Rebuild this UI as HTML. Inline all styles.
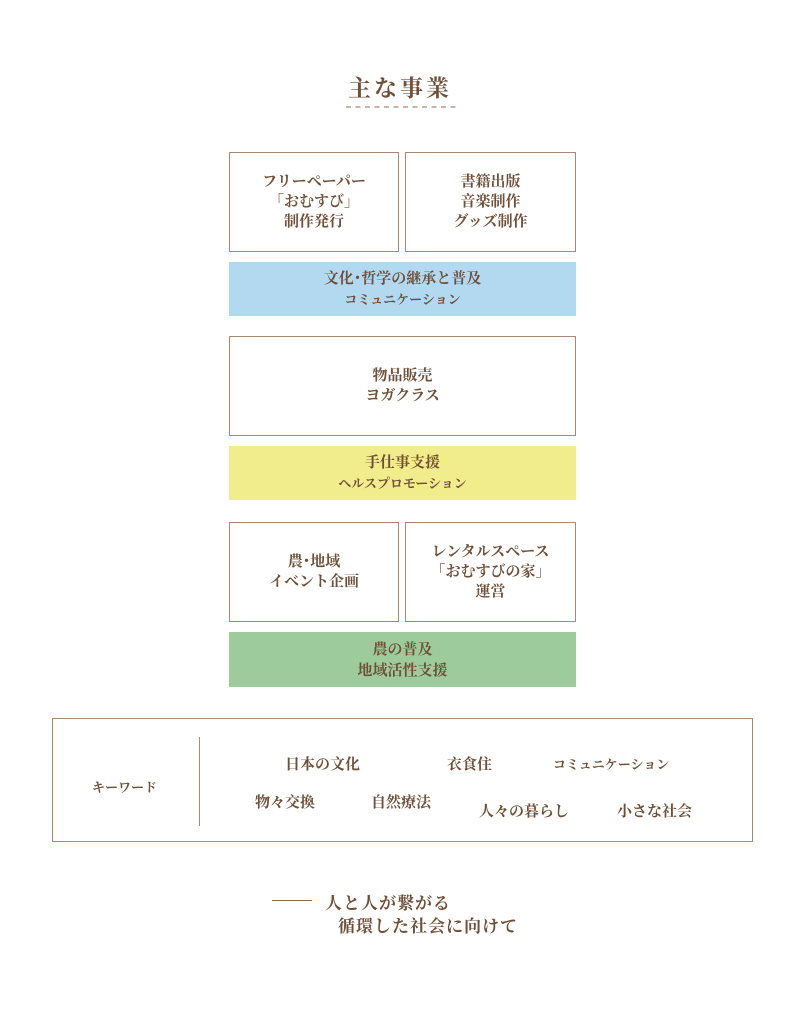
<!DOCTYPE html>
<html><head><meta charset="utf-8"><style>
body{margin:0;width:806px;height:1024px;background:#fff;position:relative;font-family:"Liberation Sans","Noto Serif CJK SC","Noto Sans CJK JP",sans-serif;color:#6e4f38;overflow:hidden}
.a{position:absolute}
.b{position:absolute;box-sizing:border-box;border:1.5px solid #a88873;display:flex;align-items:center;justify-content:center;text-align:center;font-size:15px;line-height:20px;font-weight:bold}
.f{position:absolute;display:flex;align-items:center;justify-content:center;text-align:center;font-size:15px;line-height:21px;font-weight:bold}
.k{position:absolute;font-size:15px;white-space:nowrap;font-weight:bold}
</style></head><body>
<div class="a" style="left:300px;top:70px;width:200px;text-align:center;font-size:23px;letter-spacing:3px;font-weight:bold">主な事業</div>
<svg class="a" style="left:346px;top:106px" width="114" height="3"><line x1="0" y1="1" x2="114" y2="1" stroke="#a88873" stroke-width="1.2" stroke-dasharray="5,4.5"/></svg>
<div class="b" style="left:229px;top:152px;width:170px;height:100px"><div>フリーペーパー<br>「おむすび」<br>制作発行</div></div>
<div class="b" style="left:405px;top:152px;width:171px;height:100px"><div>書籍出版<br>音楽制作<br>グッズ制作</div></div>
<div class="f" style="left:229px;top:262px;width:347px;height:54px;background:#b3d9f1"><div>文化･哲学の継承と普及<br><span style="font-size:13px">コミュニケーション</span></div></div>
<div class="b" style="left:229px;top:336px;width:347px;height:100px"><div>物品販売<br>ヨガクラス</div></div>
<div class="f" style="left:229px;top:446px;width:347px;height:54px;background:#f1ec8c"><div>手仕事支援<br><span style="font-size:13px">ヘルスプロモーション</span></div></div>
<div class="b" style="left:229px;top:522px;width:170px;height:100px"><div>農･地域<br>イベント企画</div></div>
<div class="b" style="left:405px;top:522px;width:171px;height:100px"><div>レンタルスペース<br>「おむすびの家」<br>運営</div></div>
<div class="f" style="left:229px;top:632px;width:347px;height:55px;background:#9ecb9b"><div>農の普及<br>地域活性支援</div></div>
<div class="a" style="left:52px;top:718px;width:701px;height:124px;box-sizing:border-box;border:1.5px solid #a88873"></div>
<div class="a" style="left:199px;top:737px;width:1px;height:89px;background:#a88873"></div>
<div class="k" style="left:92px;top:777px;font-size:13px">キーワード</div>
<div class="k" style="left:285px;top:753px">日本の文化</div>
<div class="k" style="left:447px;top:753px">衣食住</div>
<div class="k" style="left:553px;top:754px;font-size:13px">コミュニケーション</div>
<div class="k" style="left:255px;top:791px">物々交換</div>
<div class="k" style="left:371px;top:791px">自然療法</div>
<div class="k" style="left:479px;top:800px">人々の暮らし</div>
<div class="k" style="left:617px;top:800px">小さな社会</div>
<div class="a" style="left:272px;top:900px;width:40px;height:1px;background:#8a6a52"></div>
<div class="k" style="left:325px;top:889px;font-size:17px;letter-spacing:1px">人と人が繋がる</div>
<div class="k" style="left:338px;top:912px;font-size:17px;letter-spacing:1px">循環した社会に向けて</div>
</body></html>
